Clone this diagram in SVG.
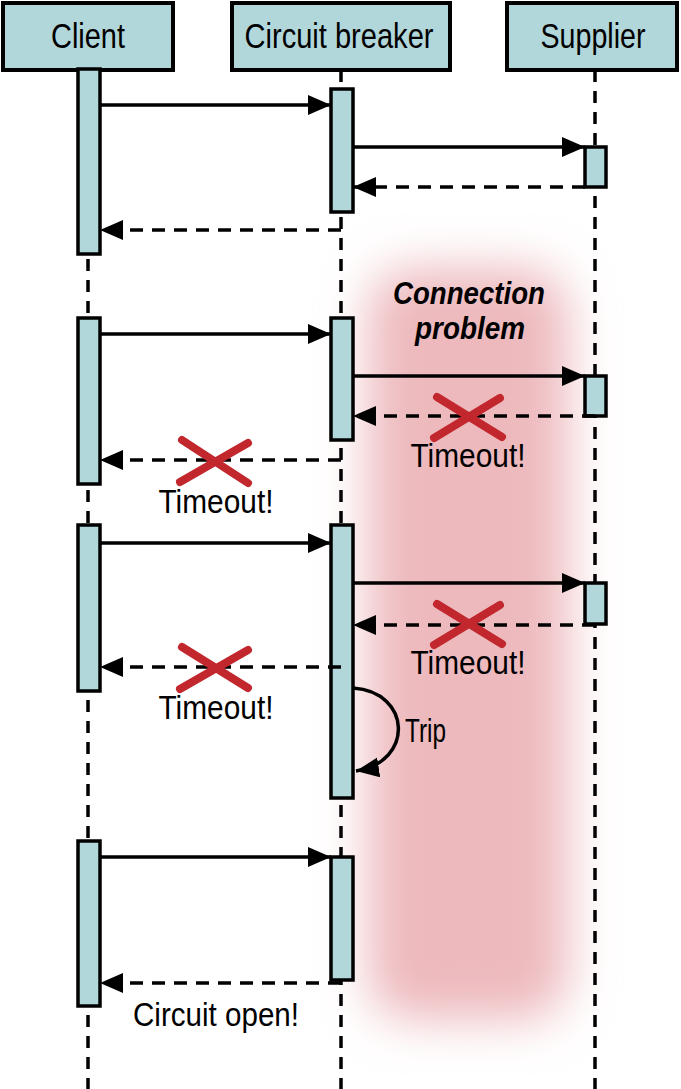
<svg xmlns="http://www.w3.org/2000/svg" width="681" height="1089" viewBox="0 0 681 1089">
<style>
.box{fill:#b1d7da;stroke:#000;stroke-width:4}
.act{fill:#b1d7da;stroke:#000;stroke-width:3.5}
.life{stroke:#000;stroke-width:3.5;stroke-dasharray:12 9;fill:none}
.msg{stroke:#000;stroke-width:3.5;fill:none}
.ret{stroke:#000;stroke-width:3.5;stroke-dasharray:13 9;fill:none}
.hd{font-family:"Liberation Sans",Arial,sans-serif;font-size:35px;fill:#000}
.lbl{font-family:"Liberation Sans",Arial,sans-serif;font-size:33px;fill:#000}
.x{stroke:#c1272d;stroke-width:8;stroke-linecap:round;fill:none}
.cp{font-family:"Liberation Sans",Arial,sans-serif;font-size:31px;font-weight:bold;font-style:italic;fill:#000}
</style>
<defs>
<marker id="ah" markerUnits="userSpaceOnUse" markerWidth="26" markerHeight="22" refX="23" refY="10" orient="auto">
<path d="M0,0 L23,10 L0,20 z" fill="#000"/>
</marker>
<filter id="glow" x="-60%" y="-20%" width="220%" height="140%">
<feGaussianBlur stdDeviation="24"/>
</filter>
</defs>
<rect width="681" height="1089" fill="#fff"/>
<g id="glow-area">
<rect x="368" y="268" width="200" height="752" rx="45" fill="#edb9bd" filter="url(#glow)"/>
</g>
<g id="lifelines">
<line class="life" x1="88" y1="70" x2="88" y2="1089"/>
<line class="life" x1="341" y1="70" x2="341" y2="1089"/>
<line class="life" x1="595" y1="70" x2="595" y2="1089"/>
</g>
<g id="client">
<rect class="box" x="3" y="3" width="170" height="67"/>
<text class="hd" x="88" y="48" text-anchor="middle" textLength="74" lengthAdjust="spacingAndGlyphs">Client</text>
</g>
<g id="circuit-breaker">
<rect class="box" x="232" y="3" width="218" height="67"/>
<text class="hd" x="339" y="48" text-anchor="middle" textLength="189" lengthAdjust="spacingAndGlyphs">Circuit breaker</text>
</g>
<g id="supplier">
<rect class="box" x="507" y="3" width="170" height="67"/>
<text class="hd" x="593" y="48" text-anchor="middle" textLength="105" lengthAdjust="spacingAndGlyphs">Supplier</text>
</g>
<g id="activations">
<rect class="act" x="78" y="69" width="22" height="185"/>
<rect class="act" x="78" y="318" width="22" height="166"/>
<rect class="act" x="78" y="525" width="22" height="166"/>
<rect class="act" x="78" y="841" width="22" height="165"/>
<rect class="act" x="331" y="89" width="22" height="123"/>
<rect class="act" x="331" y="318" width="22" height="122"/>
<rect class="act" x="331" y="525" width="22" height="273"/>
<rect class="act" x="331" y="857" width="22" height="123"/>
<rect class="act" x="585" y="147" width="21" height="40"/>
<rect class="act" x="585" y="376" width="21" height="40"/>
<rect class="act" x="585" y="583" width="21" height="41"/>
</g>
<g id="connectors">
<line class="msg" x1="100" y1="105" x2="331" y2="105" marker-end="url(#ah)"/>
<line class="msg" x1="353" y1="147" x2="585" y2="147" marker-end="url(#ah)"/>
<line class="ret" x1="585" y1="187" x2="353" y2="187" marker-end="url(#ah)"/>
<line class="ret" x1="341" y1="230" x2="100" y2="230" marker-end="url(#ah)"/>
<line class="msg" x1="100" y1="334" x2="331" y2="334" marker-end="url(#ah)"/>
<line class="msg" x1="353" y1="376" x2="585" y2="376" marker-end="url(#ah)"/>
<line class="ret" x1="595" y1="416" x2="353" y2="416" marker-end="url(#ah)"/>
<line class="ret" x1="341" y1="460" x2="100" y2="460" marker-end="url(#ah)"/>
<line class="msg" x1="100" y1="543" x2="331" y2="543" marker-end="url(#ah)"/>
<line class="msg" x1="353" y1="583" x2="585" y2="583" marker-end="url(#ah)"/>
<line class="ret" x1="595" y1="625" x2="353" y2="625" marker-end="url(#ah)"/>
<line class="ret" x1="341" y1="667" x2="100" y2="667" marker-end="url(#ah)"/>
<path class="msg" d="M353,688 C412,692 414,762 356,771" marker-end="url(#ah)"/>
<line class="msg" x1="100" y1="857" x2="331" y2="857" marker-end="url(#ah)"/>
<line class="ret" x1="341" y1="983" x2="100" y2="983" marker-end="url(#ah)"/>
</g>
<g id="failures">
<path class="x" d="M437,397 L502,437 M500,398 L434,438"/>
<path class="x" d="M182,440 L248,483 M248,443 L180,482"/>
<path class="x" d="M437,604 L502,644 M500,605 L434,645"/>
<path class="x" d="M182,647 L248,688 M248,650 L180,689"/>
</g>
<g id="labels">
<text class="cp" x="469" y="304" text-anchor="middle" textLength="152" lengthAdjust="spacingAndGlyphs">Connection</text>
<text class="cp" x="470" y="339" text-anchor="middle" textLength="110" lengthAdjust="spacingAndGlyphs">problem</text>
<text class="lbl" x="468" y="467" text-anchor="middle" textLength="115" lengthAdjust="spacingAndGlyphs">Timeout!</text>
<text class="lbl" x="216" y="513" text-anchor="middle" textLength="115" lengthAdjust="spacingAndGlyphs">Timeout!</text>
<text class="lbl" x="468" y="674" text-anchor="middle" textLength="115" lengthAdjust="spacingAndGlyphs">Timeout!</text>
<text class="lbl" x="216" y="719" text-anchor="middle" textLength="115" lengthAdjust="spacingAndGlyphs">Timeout!</text>
<text class="lbl" x="405" y="742" textLength="41" lengthAdjust="spacingAndGlyphs">Trip</text>
<text class="lbl" x="216" y="1026" text-anchor="middle" textLength="166" lengthAdjust="spacingAndGlyphs">Circuit open!</text>
</g>
</svg>
